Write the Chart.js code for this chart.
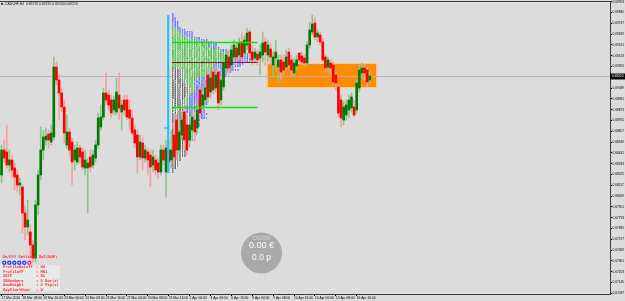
<!DOCTYPE html>
<html>
<head>
<meta charset="utf-8">
<script src="https://cdn.jsdelivr.net/npm/chart.js@4.4.1/dist/chart.umd.min.js"></script>
<style>
html, body { margin: 0; padding: 0; background: #dcdcdc; overflow: hidden; }
</style>
</head>
<body>
<canvas id="myChart" width="625" height="301"></canvas>
<script>
// CADCHF H4 candles, 17 Mar 2020 -> 17 Apr 2020
var open = [0.6822,0.6847,0.6845,0.6832,0.6837,0.6829,0.6822,0.6812,0.6810,0.6784,
  0.6770,0.6765,0.6752,0.6739,0.6792,0.6822,0.6847,0.6857,0.6863,0.6855,
  0.6860,0.6930,0.6917,0.6904,0.6890,0.6852,0.6865,0.6855,0.6837,0.6835,
  0.6849,0.6845,0.6829,0.6829,0.6840,0.6832,0.6839,0.6852,0.6870,0.6880,
  0.6904,0.6902,0.6897,0.6887,0.6885,0.6902,0.6885,0.6897,0.6897,0.6887,
  0.6879,0.6867,0.6862,0.6840,0.6854,0.6839,0.6845,0.6842,0.6832,0.6837,
  0.6834,0.6825,0.6847,0.6825,0.6847,0.6837,0.6862,0.6877,0.6847,0.6862,
  0.6885,0.6872,0.6857,0.6867,0.6877,0.6869,0.6907,0.6892,0.6897,0.6922,
  0.6905,0.6925,0.6909,0.6925,0.6897,0.6910,0.6929,0.6940,0.6932,0.6940,
  0.6949,0.6942,0.6955,0.6944,0.6952,0.6965,0.6945,0.6939,0.6943,0.6939,
  0.6942,0.6955,0.6942,0.6948,0.6932,0.6939,0.6930,0.6937,0.6935,0.6930,
  0.6945,0.6937,0.6924,0.6931,0.6944,0.6941,0.6939,0.6934,0.6952,0.6965,
  0.6974,0.6960,0.6962,0.6955,0.6940,0.6930,0.6934,0.6932,0.6922,0.6910,
  0.6897,0.6877,0.6882,0.6887,0.6889,0.6890,0.6887,0.6909,0.6924,0.6929,
  0.6927,0.6917];
var high = [0.6852,0.6857,0.6872,0.6847,0.6842,0.6834,0.6827,0.6819,0.6812,0.6792,
  0.6797,0.6772,0.6757,0.6797,0.6827,0.6870,0.6867,0.6869,0.6867,0.6872,
  0.6940,0.6935,0.6922,0.6909,0.6897,0.6882,0.6869,0.6859,0.6852,0.6855,
  0.6852,0.6849,0.6847,0.6839,0.6847,0.6847,0.6857,0.6884,0.6892,0.6909,
  0.6924,0.6907,0.6902,0.6901,0.6919,0.6924,0.6897,0.6902,0.6902,0.6897,
  0.6887,0.6872,0.6867,0.6862,0.6859,0.6852,0.6849,0.6847,0.6847,0.6842,
  0.6839,0.6852,0.6852,0.6857,0.6857,0.6867,0.6872,0.6882,0.6877,0.6885,
  0.6889,0.6882,0.6880,0.6887,0.6885,0.6897,0.6912,0.6909,0.6917,0.6927,
  0.6927,0.6929,0.6929,0.6929,0.6922,0.6939,0.6947,0.6947,0.6952,0.6957,
  0.6954,0.6959,0.6964,0.6961,0.6969,0.6967,0.6952,0.6949,0.6947,0.6952,
  0.6965,0.6959,0.6957,0.6954,0.6945,0.6957,0.6942,0.6942,0.6942,0.6947,
  0.6949,0.6942,0.6939,0.6942,0.6944,0.6945,0.6942,0.6955,0.6975,0.6982,
  0.6979,0.6967,0.6965,0.6959,0.6942,0.6940,0.6937,0.6935,0.6925,0.6912,
  0.6902,0.6895,0.6897,0.6902,0.6904,0.6897,0.6917,0.6932,0.6934,0.6933,
  0.6930,0.6927];
var low = [0.6814,0.6835,0.6829,0.6825,0.6819,0.6807,0.6805,0.6802,0.6764,0.6757,
  0.6762,0.6740,0.6735,0.6735,0.6782,0.6817,0.6837,0.6852,0.6849,0.6852,
  0.6857,0.6912,0.6877,0.6885,0.6854,0.6849,0.6842,0.6812,0.6827,0.6832,
  0.6834,0.6827,0.6822,0.6784,0.6825,0.6829,0.6835,0.6849,0.6867,0.6877,
  0.6892,0.6887,0.6879,0.6882,0.6882,0.6877,0.6867,0.6882,0.6877,0.6867,
  0.6862,0.6849,0.6824,0.6837,0.6827,0.6835,0.6822,0.6810,0.6825,0.6822,
  0.6819,0.6822,0.6832,0.6800,0.6824,0.6829,0.6832,0.6837,0.6842,0.6857,
  0.6847,0.6842,0.6852,0.6859,0.6857,0.6864,0.6879,0.6887,0.6892,0.6894,
  0.6899,0.6902,0.6905,0.6887,0.6892,0.6907,0.6925,0.6922,0.6927,0.6937,
  0.6935,0.6939,0.6935,0.6939,0.6947,0.6939,0.6932,0.6935,0.6932,0.6922,
  0.6935,0.6932,0.6935,0.6932,0.6920,0.6927,0.6914,0.6917,0.6922,0.6927,
  0.6929,0.6922,0.6921,0.6927,0.6934,0.6932,0.6931,0.6931,0.6949,0.6962,
  0.6957,0.6955,0.6952,0.6935,0.6925,0.6925,0.6922,0.6912,0.6907,0.6880,
  0.6870,0.6872,0.6877,0.6879,0.6885,0.6880,0.6884,0.6905,0.6919,0.6917,
  0.6910,0.6913];
var close = [0.6847,0.6839,0.6832,0.6837,0.6827,0.6820,0.6812,0.6814,0.6784,0.6770,
  0.6777,0.6752,0.6739,0.6792,0.6822,0.6847,0.6860,0.6861,0.6857,0.6864,
  0.6930,0.6917,0.6904,0.6890,0.6864,0.6865,0.6847,0.6835,0.6847,0.6849,
  0.6840,0.6830,0.6837,0.6834,0.6830,0.6842,0.6852,0.6879,0.6880,0.6904,
  0.6897,0.6892,0.6884,0.6897,0.6905,0.6889,0.6892,0.6887,0.6880,0.6879,
  0.6864,0.6854,0.6840,0.6855,0.6839,0.6847,0.6837,0.6830,0.6840,0.6827,
  0.6825,0.6847,0.6837,0.6849,0.6835,0.6847,0.6840,0.6847,0.6865,0.6877,
  0.6857,0.6847,0.6872,0.6880,0.6865,0.6887,0.6884,0.6902,0.6909,0.6900,
  0.6919,0.6907,0.6922,0.6894,0.6917,0.6934,0.6942,0.6929,0.6947,0.6952,
  0.6940,0.6954,0.6940,0.6957,0.6964,0.6944,0.6937,0.6945,0.6937,0.6945,
  0.6954,0.6945,0.6952,0.6940,0.6940,0.6945,0.6937,0.6925,0.6927,0.6940,
  0.6932,0.6927,0.6934,0.6937,0.6937,0.6935,0.6934,0.6952,0.6967,0.6973,
  0.6960,0.6964,0.6955,0.6937,0.6929,0.6937,0.6929,0.6915,0.6914,0.6884,
  0.6879,0.6890,0.6892,0.6897,0.6900,0.6882,0.6914,0.6927,0.6929,0.6924,
  0.6915,0.6921];

// time axis labels (one every 8 bars)
var tickBars = [0,8,16,24,32,40,48,56,64,72,80,88,96,104,112,120,128,136];
var dateLabels = ['17 Mar 2020','18 Mar 08:00','19 Mar 16:00','23 Mar 00:00','24 Mar 08:00',
  '25 Mar 16:00','27 Mar 00:00','30 Mar 08:00','31 Mar 16:00','2 Apr 00:00','3 Apr 08:00',
  '6 Apr 16:00','8 Apr 00:00','9 Apr 08:00','10 Apr 16:00','14 Apr 00:00','15 Apr 08:00','16 Apr 16:00'];

// price axis labels
var priceTicks = [0.69953,0.69845,0.69737,0.69629,0.69521,0.69413,0.69305,0.69089,0.68981,
  0.68873,0.68765,0.68657,0.68549,0.68441,0.68333,0.68225,0.68117,0.68009,0.67901,0.67793,
  0.67685,0.67577,0.67469,0.67361,0.67253,0.67145,0.67037];

// market profile (monthly, 2 pip rows) and levels
var profileFrom = 64;
var profileRow = 0.0002;
var valueAreaHigh = 0.6955;
var valueAreaLow = 0.6890;
var pocPrice = 0.6935;
var levelEndBar = 98;
var zoneBars = [101.6, 143.8];
var zonePrices = [0.6909, 0.6934];

var settingNames = ['ProfileDataTF', 'ProfileTF', 'IDTF', 'IDNumbers', 'RowHeight', 'DayStartHour'];
var settingValues = ['H4', 'MN1', 'D1', '5 Bar(s)', '2 Pip(s)', '0'];

var last = close.length - 1;
var bodies = open.map(function (o, i) { return { x: i, y: [o, close[i]] }; });
var wicks = open.map(function (o, i) { return { x: i, y: [low[i], high[i]] }; });

var overlay = {
  id: 'overlay',
  beforeDraw: function (chart) {
    var c = chart.ctx;
    c.save();
    c.fillStyle = '#dcdcdc';
    c.fillRect(0, 0, chart.width, chart.height);
    c.restore();
  },
  beforeDatasetsDraw: function (chart) {
    var c = chart.ctx, xs = chart.scales.x, ys = chart.scales.y, a = chart.chartArea;
    c.save();
    // supply zone
    var zx1 = xs.getPixelForValue(zoneBars[0]), zx2 = xs.getPixelForValue(zoneBars[1]);
    var zy1 = ys.getPixelForValue(zonePrices[1]), zy2 = ys.getPixelForValue(zonePrices[0]);
    c.fillStyle = '#ff8c00';
    c.fillRect(zx1, zy1, zx2 - zx1, zy2 - zy1);
    c.strokeStyle = '#ffc98a';
    c.lineWidth = 1;
    c.strokeRect(zx1 + 0.5, zy1 + 0.5, zx2 - zx1 - 1, zy2 - zy1 - 1);
    // current price line
    var py = Math.round(ys.getPixelForValue(close[last])) + 0.5;
    c.strokeStyle = '#b4b4b4';
    c.beginPath(); c.moveTo(a.left, py); c.lineTo(a.right, py); c.stroke();

    // TPO profile: one small letter per bar that touched each 2 pip row
    var lo = Math.min.apply(null, low.slice(profileFrom));
    var hi = Math.max.apply(null, high.slice(profileFrom));
    var rows = Math.ceil((hi - lo) / profileRow);
    var x0 = xs.getPixelForValue(profileFrom + 1.2);
    var cw = 2.4;
    c.font = 'bold 2.8px "DejaVu Sans Mono"';
    c.textBaseline = 'middle';
    c.textAlign = 'left';
    for (var r = 0; r < rows; r++) {
      var pb = lo + r * profileRow, pt = pb + profileRow;
      var yTop = ys.getPixelForValue(pt), yBot = ys.getPixelForValue(pb);
      var h = yBot - yTop;
      var col = 0;
      for (var b = profileFrom; b <= last; b++) {
        if (low[b] <= pt && high[b] >= pb) {
          var bg, fg;
          if (b < 84) { bg = 'rgba(255,255,255,0.85)'; fg = '#111111'; }
          else if (b < 113) { bg = 'rgba(200,238,190,0.85)'; fg = '#1e9a1e'; }
          else { bg = 'rgba(220,220,255,0.85)'; fg = '#2f2ff2'; }
          var cx = x0 + col * cw;
          c.fillStyle = bg;
          c.fillRect(cx, yTop, cw, h);
          c.fillStyle = fg;
          c.fillText(String.fromCharCode(65 + (b - profileFrom) % 26), cx + 0.3, yTop + h / 2);
          col++;
        }
      }
    }
    c.restore();
  },
  afterDatasetsDraw: function (chart) {
    var c = chart.ctx, xs = chart.scales.x, ys = chart.scales.y, a = chart.chartArea;
    c.save();
    var lx1 = xs.getPixelForValue(profileFrom + 1.2), lx2 = xs.getPixelForValue(levelEndBar);
    function hline(p, col, w) {
      var y = Math.round(ys.getPixelForValue(p)) + 0.5;
      c.strokeStyle = col; c.lineWidth = w;
      c.beginPath(); c.moveTo(lx1, y); c.lineTo(lx2, y); c.stroke();
    }
    hline(valueAreaHigh, '#00f000', 1.5);
    hline(valueAreaLow, '#00f000', 1.5);
    hline(pocPrice, '#8b1a1a', 1);

    // month start marker
    var vx = xs.getPixelForValue(profileFrom - 0.2);
    var lo = Math.min.apply(null, low.slice(profileFrom));
    var hi = Math.max.apply(null, high.slice(profileFrom));
    c.strokeStyle = '#19c3f5'; c.lineWidth = 2;
    c.beginPath(); c.moveTo(vx, ys.getPixelForValue(hi)); c.lineTo(vx, ys.getPixelForValue(lo)); c.stroke();
    var my = ys.getPixelForValue(close[profileFrom - 1] + 0.002);
    c.lineWidth = 1.2;
    c.beginPath(); c.moveTo(vx - 4, my); c.lineTo(vx, my); c.stroke();

    // profit badge
    c.fillStyle = 'rgba(165,165,165,0.95)';
    c.beginPath(); c.arc(261.5, 253, 20.5, 0, Math.PI * 2); c.fill();
    c.textAlign = 'center'; c.textBaseline = 'middle';
    c.fillStyle = '#d8d8d8';
    c.font = '4.5px Arial';
    c.fillText('CADCHF', 261.5, 239);
    c.fillStyle = '#ffffff';
    c.font = '9px Arial';
    c.fillText('0.00 \u20ac', 261.5, 245.5);
    c.font = '8.5px Arial';
    c.fillText('0.0 p', 261.5, 257.5);

    // settings panel
    c.fillStyle = 'rgba(236,236,236,0.7)';
    c.fillRect(0, 265, 60, 26);
    c.textAlign = 'left';
    c.fillStyle = '#ff2a2a';
    c.font = 'bold 3.8px "DejaVu Sans Mono"';
    c.fillText('On/Off Setting: Del(NUP)', 2.5, 257.5);
    var dots = ['#2846ff', '#2846ff', '#2846ff', '#2846ff', '#2846ff', '#ff2a8a'];
    dots.forEach(function (col, i) {
      c.fillStyle = col;
      c.beginPath(); c.arc(4.3 + i * 5, 262.8, 2.2, 0, Math.PI * 2); c.fill();
      c.fillStyle = '#ffffff';
      c.beginPath(); c.arc(4.3 + i * 5, 262.8, 0.8, 0, Math.PI * 2); c.fill();
    });
    c.fillStyle = '#ff2a2a';
    settingNames.forEach(function (n, i) {
      var y = 267.5 + i * 4.5;
      c.fillText(n, 3, y);
      c.fillText(': ' + settingValues[i], 36, y);
    });

    // title
    c.fillStyle = '#111111';
    c.fillRect(1, 3.2, 2.2, 1.4);
    c.font = '3.4px Arial';
    c.fillText('CADCHF,H4  ' + open[last].toFixed(5) + ' ' + high[last].toFixed(5) + ' ' +
      low[last].toFixed(5) + ' ' + close[last].toFixed(5), 5, 4);

    // frame top
    c.strokeStyle = '#3c3c3c'; c.lineWidth = 1;
    c.beginPath(); c.moveTo(0, a.top + 0.5); c.lineTo(a.right, a.top + 0.5); c.stroke();

    // current price tag
    var py = Math.round(ys.getPixelForValue(close[last])) + 0.5;
    c.fillStyle = '#0a0a0a';
    c.fillRect(a.right, py - 3, 15, 6);
    c.fillStyle = '#ffffff';
    c.font = '3.2px Arial';
    c.fillText(close[last].toFixed(5), a.right + 2, py);
    c.restore();
  }
};

var ctx = document.getElementById('myChart').getContext('2d');
var myChart = new Chart(ctx, {
  type: 'bar',
  data: {
    datasets: [{
      label: 'body',
      data: bodies,
      order: 0,
      barThickness: 2,
      grouped: false,
      borderWidth: 0,
      borderSkipped: false,
      backgroundColor: function (c) {
        var i = c.dataIndex;
        return close[i] >= open[i] ? '#007a00' : '#ff0000';
      }
    }, {
      label: 'wick',
      data: wicks,
      order: 1,
      barThickness: 1,
      grouped: false,
      borderWidth: 0,
      borderSkipped: false,
      backgroundColor: function (c) {
        var i = c.dataIndex;
        return close[i] >= open[i] ? '#8cc48c' : '#f4a0a0';
      }
    }]
  },
  options: {
    responsive: false,
    animation: false,
    devicePixelRatio: 1,
    layout: { padding: { top: 1, left: 0, right: 0, bottom: 0 } },
    plugins: { legend: { display: false }, tooltip: { enabled: false } },
    scales: {
      x: {
        type: 'linear',
        min: -0.6,
        max: 233,
        offset: false,
        grid: { drawOnChartArea: false, drawTicks: true, tickLength: 2, color: '#000', offset: false },
        border: { display: true, color: '#3c3c3c' },
        afterBuildTicks: function (s) { s.ticks = tickBars.map(function (v) { return { value: v }; }); },
        afterFit: function (s) { s.height = 7; s.paddingLeft = 0; s.paddingRight = 0; },
        ticks: {
          autoSkip: false, maxRotation: 0, align: 'start', padding: 0,
          color: '#000', font: { family: 'Arial', size: 3.3 },
          callback: function (v, i) { return dateLabels[i]; }
        }
      },
      y: {
        type: 'linear',
        position: 'right',
        min: 0.6703,
        max: 0.6996,
        grid: { drawOnChartArea: false, drawTicks: true, tickLength: 2, color: '#000' },
        border: { display: true, color: '#3c3c3c' },
        afterBuildTicks: function (s) { s.ticks = priceTicks.map(function (v) { return { value: v }; }); },
        afterFit: function (s) { s.width = 15; s.paddingTop = 0; s.paddingBottom = 0; },
        ticks: {
          autoSkip: false, padding: 0.5,
          color: '#000', font: { family: 'Arial', size: 3.2 },
          callback: function (v) { return v.toFixed(5); }
        }
      }
    }
  },
  plugins: [overlay]
});
</script>
</body>
</html>
